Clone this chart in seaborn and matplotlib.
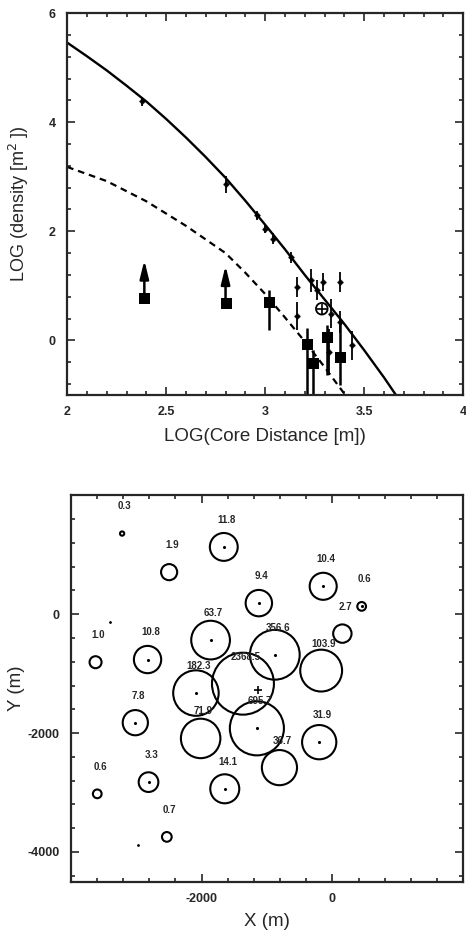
import numpy as np
import pandas as pd
import matplotlib
matplotlib.use("Agg")
import matplotlib.pyplot as plt
from matplotlib.ticker import MultipleLocator
import seaborn as sns

# ---- top panel: lateral distribution ----
fit_x = [2.0, 2.1, 2.2, 2.3, 2.4, 2.5, 2.6, 2.7, 2.8, 2.9, 3.0, 3.1, 3.2, 3.3, 3.4, 3.5, 3.6, 3.66]
fit_y = [5.46, 5.21, 4.95, 4.67, 4.38, 4.06, 3.72, 3.36, 2.98, 2.56, 2.12, 1.67, 1.2, 0.75, 0.3, -0.18, -0.68, -1.0]
muon_fit_x = [2.0, 2.2, 2.4, 2.6, 2.8, 2.9, 3.0, 3.1, 3.2, 3.3, 3.4]
muon_fit_y = [3.18, 2.92, 2.55, 2.1, 1.6, 1.24, 0.85, 0.42, -0.02, -0.49, -0.98]

det_x = [2.38, 2.80, 2.96, 3.00, 3.04, 3.13, 3.16, 3.23, 3.26, 3.29, 3.38, 3.16, 3.33, 3.38, 3.44, 3.32]
det_y = [4.38, 2.86, 2.29, 2.04, 1.86, 1.52, 0.98, 1.10, 0.92, 1.07, 1.07, 0.45, 0.49, 0.33, -0.09, -0.21]
det_err = [0.08, 0.15, 0.08, 0.08, 0.10, 0.10, 0.18, 0.21, 0.18, 0.17, 0.18, 0.26, 0.26, 0.20, 0.27, 0.42]

odd_x = [3.286]
odd_y = [0.58]

mu_x = [3.02, 3.21, 3.24, 3.31, 3.38]
mu_y = [0.71, -0.07, -0.42, 0.07, -0.30]
mu_lo = [0.52, 0.95, 0.60, 0.70, 0.52]
mu_hi = [0.21, 0.29, 0.24, 0.21, 0.70]

lim_x = [2.39, 2.80]
lim_y = [0.77, 0.69]
lim_arrow = [1.47, 1.37]

# ---- bottom panel: detector map ----
det_labels = ["0.3", "1.9", "11.8", "9.4", "10.4", "0.6", "2.7", "1.0", "10.8", "63.7",
              "356.6", "103.9", "2368.5", "182.3", "7.8", "71.9", "695.7", "31.9",
              "36.7", "3.3", "14.1", "0.6", "0.7"]
map_x = [-3216, -2497, -1661, -1125, -141, 447, 152, -3622, -2827, -1863,
         -881, -172, -1368, -2087, -3014, -2015, -1155, -202,
         -810, -2812, -1646, -3596, -2532]
map_y = [1356, 707, 1131, 186, 469, 131, -327, -808, -763, -436,
         -683, -949, -1169, -1327, -1825, -2090, -1920, -2153,
         -2581, -2825, -2937, -3022, -3746]
has_dot = [0, 0, 1, 1, 1, 1, 0, 0, 1, 1,
           1, 0, 0, 1, 1, 0, 1, 1,
           0, 1, 1, 0, 0]
core_x = [-1140]
core_y = [-1271]
extra_x = [-3394, -2979]
extra_y = [-124, -3881]

sns.set_style("ticks")
plt.rcParams["font.family"] = ["Liberation Sans", "DejaVu Sans"]

fig = plt.figure(figsize=(4.66, 9.38), dpi=100)
ax1 = fig.add_axes([0.144, 0.579, 0.850, 0.407])
ax2 = fig.add_axes([0.152, 0.060, 0.842, 0.412])

# top panel
sns.lineplot(x=fit_x, y=fit_y, sort=False, color="black", lw=1.7, ax=ax1)
sns.lineplot(x=muon_fit_x, y=muon_fit_y, sort=False, color="black", lw=1.6,
             dashes=False, ax=ax1).lines[-1].set_dashes([3, 2.2])
ax1.errorbar(det_x, det_y, yerr=det_err, fmt="none", ecolor="black", elinewidth=1.3)
sns.scatterplot(x=det_x, y=det_y, marker="D", s=14, color="black", ax=ax1)
ax1.errorbar(mu_x, mu_y, yerr=[mu_lo, mu_hi], fmt="none", ecolor="black", elinewidth=1.8)
sns.scatterplot(x=mu_x + lim_x, y=mu_y + lim_y, marker="s", s=80, color="black", ax=ax1)
for x0, y0, y1 in zip(lim_x, lim_y, lim_arrow):
    ax1.annotate("", xy=(x0, y1), xytext=(x0, y0),
                 arrowprops=dict(arrowstyle="-|>,head_length=0.9,head_width=0.22",
                                 color="black", lw=1.8,
                                 mutation_scale=12, shrinkA=0, shrinkB=0))
sns.scatterplot(x=odd_x, y=odd_y, marker="o", s=70, facecolor="none",
                edgecolor="black", linewidth=1.3, ax=ax1)
sns.scatterplot(x=odd_x, y=odd_y, marker="+", s=50, color="black", linewidth=1.2, ax=ax1)

ax1.set_xlim(2, 4)
ax1.set_ylim(-1, 6)
ax1.xaxis.set_major_locator(MultipleLocator(0.5))
ax1.xaxis.set_minor_locator(MultipleLocator(0.1))
ax1.yaxis.set_major_locator(MultipleLocator(2))
ax1.yaxis.set_minor_locator(MultipleLocator(0.4))
ax1.set_xticks([2, 2.5, 3, 3.5, 4], ["2", "2.5", "3", "3.5", "4"])
ax1.set_yticks([0, 2, 4, 6], ["0", "2", "4", "6"])
ax1.set_xlabel("LOG(Core Distance [m])", fontsize=13.5, labelpad=7)
ax1.set_ylabel("LOG (density [m$^{2}$ ])", fontsize=13, labelpad=13)

# bottom panel
map_df = pd.DataFrame({"x": map_x, "y": map_y, "label": det_labels,
                       "density": [float(v) for v in det_labels], "dot": has_dot})
area = {d: (1.44 * (6 + 7.4 * np.log10(d))) ** 2 for d in map_df["density"].unique()}
sns.scatterplot(data=map_df, x="x", y="y", size="density", sizes=area, legend=False,
                facecolor="none", edgecolor="black", linewidth=1.5, ax=ax2)
dots = map_df[map_df["dot"] == 1]
sns.scatterplot(data=dots, x="x", y="y", marker="o", s=5, color="black", linewidth=0, ax=ax2)
sns.scatterplot(x=extra_x, y=extra_y, marker="o", s=4, color="black", linewidth=0, ax=ax2)
sns.scatterplot(x=core_x, y=core_y, marker="+", s=30, color="black", linewidth=1.2, ax=ax2)
for _, r in map_df.iterrows():
    ax2.annotate(r["label"], (r["x"], r["y"]), xytext=(2, 19.5), textcoords="offset points",
                 ha="center", va="center", fontsize=7, fontweight="bold")

ax2.set_xlim(-4000, 2000)
ax2.set_ylim(-4500, 2000)
ax2.xaxis.set_minor_locator(MultipleLocator(400))
ax2.yaxis.set_minor_locator(MultipleLocator(400))
ax2.set_xticks([-2000, 0], ["-2000", "0"])
ax2.set_yticks([-4000, -2000, 0], ["-4000", "-2000", "0"])
ax2.set_xlabel("X (m)", fontsize=13.5, labelpad=6)
ax2.set_ylabel("Y (m)", fontsize=13.5, labelpad=2)

for ax in (ax1, ax2):
    ax.tick_params(which="both", direction="in", top=True, right=True, width=1.2)
    ax.tick_params(which="major", length=6, labelsize=9, pad=8)
    ax.tick_params(which="minor", length=3)
    for lab in ax.get_xticklabels() + ax.get_yticklabels():
        lab.set_fontweight("bold")
    for sp in ax.spines.values():
        sp.set_linewidth(1.6)
        sp.set_visible(True)

fig.savefig("out.png", dpi=100)
